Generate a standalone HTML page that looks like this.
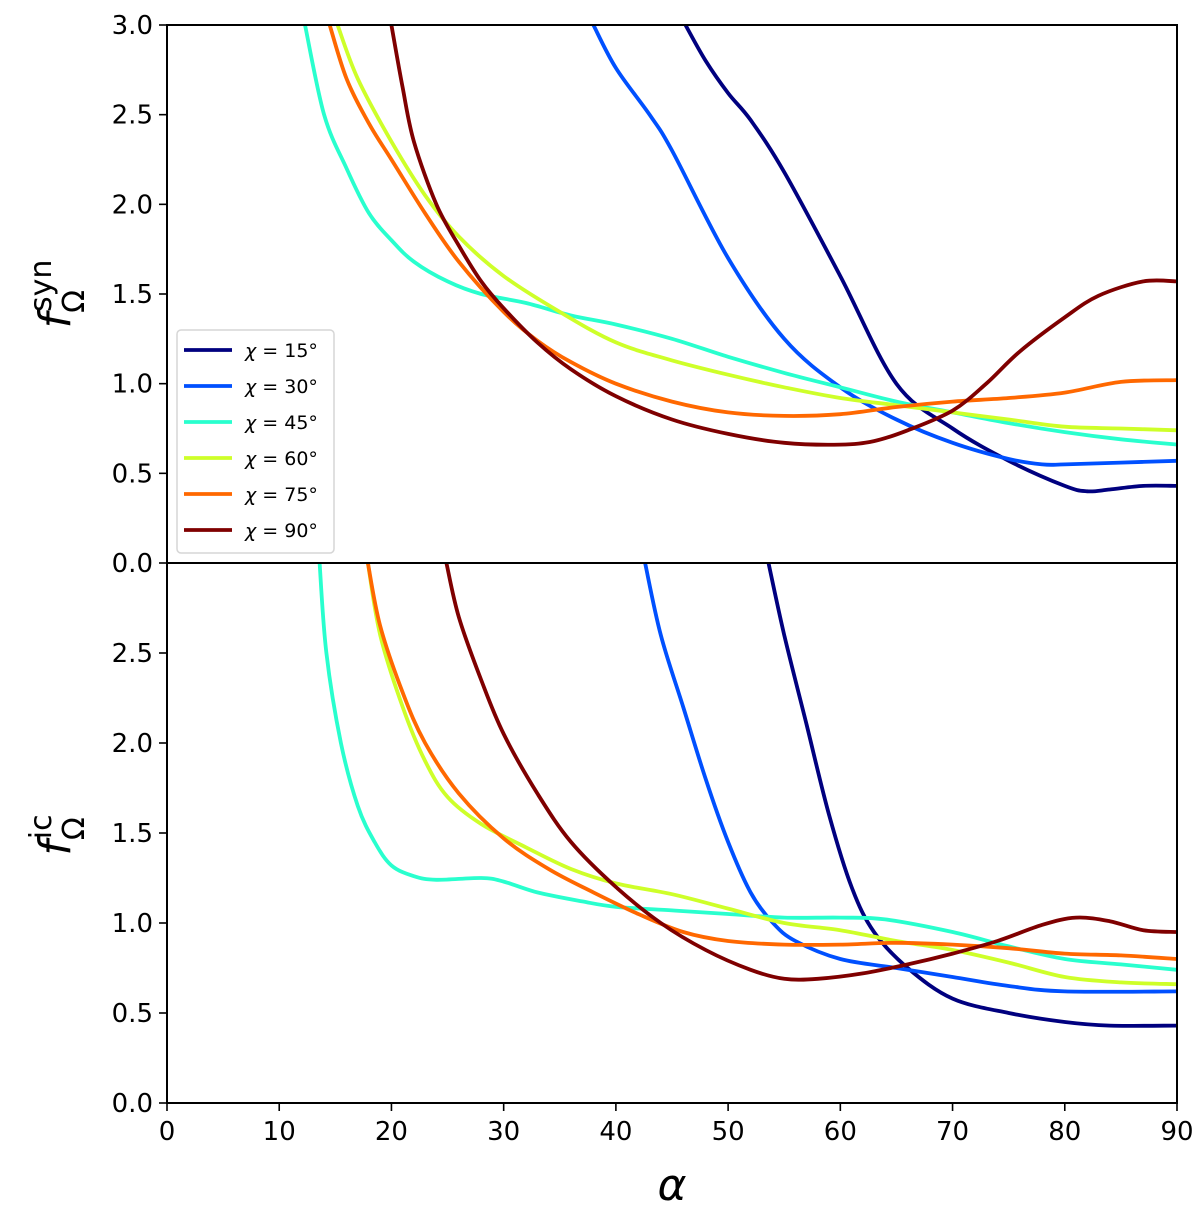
<!DOCTYPE html>
<html><head><meta charset="utf-8"><style>body{margin:0;background:#fff}svg{display:block}text{font-family:"DejaVu Sans","Liberation Sans",sans-serif}</style></head>
<body>
<svg id="chart" width="1200" height="1215" xmlns="http://www.w3.org/2000/svg">
<defs>
<clipPath id="ct"><rect x="167" y="25" width="1010" height="538"/></clipPath>
<clipPath id="cb"><rect x="167" y="563" width="1010" height="540"/></clipPath>
</defs>
<g id="top"></g>
<g id="bot"></g>
<text transform="translate(70,294) rotate(-90)" text-anchor="middle" font-size="44"><tspan font-style="italic">f</tspan><tspan font-size="30" dy="14">Ω</tspan><tspan font-size="30" dx="-22" dy="-33">syn</tspan></text>
<text transform="translate(70,835) rotate(-90)" text-anchor="middle" font-size="44"><tspan font-style="italic">f</tspan><tspan font-size="30" dy="14">Ω</tspan><tspan font-size="30" dx="-22" dy="-33">ic</tspan></text>
<text x="672" y="1200" text-anchor="middle" font-size="44" font-style="italic">α</text>
</svg>
<script>
const chis=["15","30","45","60","75","90"];
const colors=["#00007f","#0050ff","#29ffce","#ceff29","#ff6800","#7f0000"];
const xTicks=[0,10,20,30,40,50,60,70,80,90];
const yTicksTop=[0,0.5,1,1.5,2,2.5,3];
const yTicksBot=[0,0.5,1,1.5,2,2.5];
const syn15=[[46.2,3.0],[48,2.8],[50,2.62],[52,2.47],[55,2.18],[60,1.6],[65,1.0],[70,0.75],[75,0.57],[80,0.43],[82,0.40],[84,0.41],[87,0.43],[90,0.43]];
const syn30=[[38,3.0],[40,2.76],[43,2.5],[45,2.3],[50,1.7],[55,1.25],[60,0.98],[65,0.8],[70,0.67],[75,0.58],[78,0.55],[80,0.55],[85,0.56],[90,0.57]];
const syn45=[[12.3,3.0],[14,2.5],[16,2.2],[18,1.95],[20,1.8],[22,1.68],[25,1.57],[28,1.5],[32,1.45],[36,1.38],[40,1.33],[45,1.25],[50,1.15],[55,1.06],[60,0.98],[65,0.9],[70,0.84],[75,0.78],[80,0.73],[85,0.69],[90,0.66]];
const syn60=[[15.2,3.0],[17,2.7],[20,2.35],[23,2.05],[26,1.82],[30,1.6],[35,1.4],[40,1.23],[45,1.13],[50,1.05],[55,0.98],[60,0.92],[65,0.88],[70,0.84],[75,0.8],[80,0.76],[85,0.75],[90,0.74]];
const syn75=[[14.5,3.0],[16,2.7],[18,2.45],[20,2.25],[23,1.95],[26,1.68],[30,1.4],[33,1.24],[36,1.12],[40,1.0],[45,0.9],[50,0.84],[55,0.82],[60,0.83],[65,0.87],[70,0.9],[75,0.92],[80,0.95],[85,1.01],[90,1.02]];
const syn90=[[20,3.0],[21,2.65],[22,2.35],[24,2.0],[26,1.77],[28,1.57],[30,1.42],[33,1.23],[36,1.08],[40,0.93],[45,0.8],[50,0.72],[55,0.67],[60,0.66],[63,0.68],[66,0.74],[70,0.85],[73,1.0],[76,1.18],[80,1.37],[83,1.49],[87,1.57],[90,1.57]];
const ic15=[[53.6,3.0],[55,2.6],[57,2.1],[59,1.6],[61,1.2],[63,0.95],[66,0.75],[70,0.58],[75,0.5],[80,0.45],[84,0.43],[90,0.43]];
const ic30=[[42.6,3.0],[44,2.6],[46,2.2],[48,1.8],[50,1.45],[52,1.17],[54,1.0],[56,0.9],[60,0.8],[65,0.75],[70,0.7],[75,0.65],[80,0.62],[90,0.62]];
const ic45=[[13.6,3.0],[14.2,2.5],[15.5,2.0],[17,1.65],[18.5,1.45],[20,1.32],[22,1.26],[24,1.24],[28,1.25],[30,1.23],[33,1.17],[37,1.12],[40,1.09],[45,1.07],[50,1.05],[55,1.03],[60,1.03],[64,1.02],[70,0.95],[75,0.87],[80,0.8],[85,0.77],[90,0.74]];
const ic60=[[17.9,3.0],[19,2.6],[21,2.2],[23,1.9],[25,1.7],[28,1.55],[32,1.42],[36,1.3],[40,1.22],[45,1.16],[50,1.08],[55,1.0],[60,0.96],[65,0.9],[70,0.85],[75,0.78],[80,0.7],[85,0.67],[90,0.66]];
const ic75=[[17.9,3.0],[19,2.65],[21,2.28],[23,2.0],[26,1.72],[30,1.47],[34,1.3],[38,1.17],[42,1.05],[46,0.95],[50,0.9],[55,0.88],[60,0.88],[65,0.89],[70,0.88],[75,0.86],[80,0.83],[85,0.82],[90,0.8]];
const ic90=[[24.9,3.0],[26,2.7],[28,2.35],[30,2.05],[33,1.72],[36,1.45],[40,1.2],[44,1.0],[48,0.85],[52,0.74],[55,0.69],[58,0.69],[62,0.72],[66,0.77],[70,0.83],[74,0.9],[78,0.99],[81,1.03],[84,1.01],[87,0.96],[90,0.95]];
const synSeries=[syn15,syn30,syn45,syn60,syn75,syn90];
const icSeries=[ic15,ic30,ic45,ic60,ic75,ic90];
const NS="http://www.w3.org/2000/svg";
const X0=167,X1=1177;
const xs=v=>X0+(v/90)*(X1-X0);
function mk(t,a,p){const e=document.createElementNS(NS,t);for(const k in a)e.setAttribute(k,a[k]);p.appendChild(e);return e;}
function smooth(P){
  let d="M"+P[0][0].toFixed(1)+","+P[0][1].toFixed(1);
  for(let i=0;i<P.length-1;i++){
    const p0=P[Math.max(i-1,0)],p1=P[i],p2=P[i+1],p3=P[Math.min(i+2,P.length-1)];
    const c1=[p1[0]+(p2[0]-p0[0])/6,p1[1]+(p2[1]-p0[1])/6];
    const c2=[p2[0]-(p3[0]-p1[0])/6,p2[1]-(p3[1]-p1[1])/6];
    d+="C"+c1.map(v=>v.toFixed(1)).join(",")+" "+c2.map(v=>v.toFixed(1)).join(",")+" "+p2[0].toFixed(1)+","+p2[1].toFixed(1);
  }
  return d;
}
function panel(g,top,bottom,series,clip,name,showX,yTicks){
  const ys=v=>bottom-(v/3)*(bottom-top);
  series.forEach((s,i)=>{
    const P=s.map(p=>[xs(p[0]),ys(p[1])]);
    const pa=mk("path",{d:smooth(P),fill:"none",stroke:colors[i],"stroke-width":3.8,"stroke-linejoin":"round","clip-path":"url(#"+clip+")"},g);
    
    
  });
  const fr=mk("rect",{x:X0,y:top,width:X1-X0,height:bottom-top,fill:"none",stroke:"#000","stroke-width":2},g);
  
  
  yTicks.forEach(v=>{
    const y=ys(v);
    const tk=mk("line",{x1:X0-8,x2:X0,y1:y,y2:y,stroke:"#000","stroke-width":1.6},g);
    
    
    const t=mk("text",{x:X0-14,y:y+9,"text-anchor":"end","font-size":26},g);
    t.textContent=v.toFixed(1);
    
    
  });
  if(showX) xTicks.forEach(v=>{
    const x=xs(v);
    const tk=mk("line",{x1:x,x2:x,y1:bottom,y2:bottom+8,stroke:"#000","stroke-width":1.6},g);
    
    
    const t=mk("text",{x:x,y:bottom+37,"text-anchor":"middle","font-size":26},g);
    t.textContent=v;
    
    
  });
}
panel(document.getElementById("top"),25,563,synSeries,"ct","syn",false,yTicksTop);
panel(document.getElementById("bot"),563,1103,icSeries,"cb","ic",true,yTicksBot);
const g=document.getElementById("top");
const lg=mk("g",{},g);


mk("rect",{x:177,y:330,width:157,height:223,rx:4,fill:"#fff","fill-opacity":0.85,stroke:"#d6d6d6","stroke-width":1.5},lg);
chis.forEach((c,i)=>{
  const y=350+i*36;
  const en=mk("g",{},lg);
  
  
  mk("line",{x1:184,x2:232,y1:y,y2:y,stroke:colors[i],"stroke-width":3.8},en);
  const t=mk("text",{x:245,y:y+7,"font-size":19},en);
  t.innerHTML='<tspan font-style="italic">χ</tspan> = ' + c + '°';
});
</script>
</body></html>
